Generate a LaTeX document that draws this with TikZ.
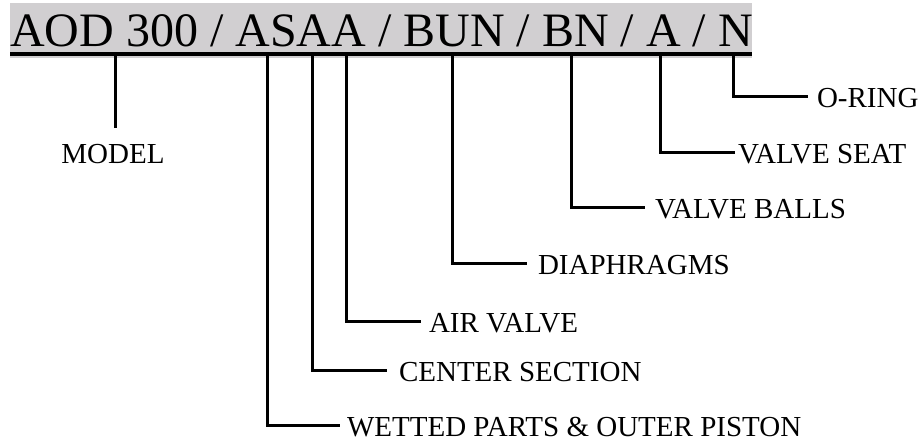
\documentclass[tikz,border=0pt]{standalone}
\usepackage{fontspec}
\setmainfont{Liberation Serif}
\definecolor{barbg}{RGB}{209,207,209}
\begin{document}
\begin{tikzpicture}[x=1pt,y=-1pt,
  lead/.style={line width=3pt, line join=miter},
  lab/.style={inner sep=0pt, text height=23pt, text depth=0pt, anchor=west,
    font=\fontsize{29}{31}\selectfont},
  titlefont/.style={inner sep=0pt, anchor=base west, font=\fontsize{48}{50}\selectfont}
]
\useasboundingbox (0,0) rectangle (918,444);
\fill[barbg] (10,3) rectangle (752,58);
\node[titlefont] (title) at (10,47) {AOD 300 / ASAA / BUN / BN / A / N};
\draw[line width=3.5pt] (10,54) -- (752,54);
% tick points on the underline
\coordinate (t1) at (115,55);
\coordinate (t2) at (267,55);
\coordinate (t3) at (312,55);
\coordinate (t4) at (346,55);
\coordinate (t5) at (452,55);
\coordinate (t6) at (571,55);
\coordinate (t7) at (660,55);
\coordinate (t8) at (733,55);
% labels
\node[lab, anchor=north, outer ysep=12pt] (model) at (113,128) {MODEL};
\node[lab, outer xsep=7pt] (wetted) at (340,425) {WETTED PARTS \& OUTER PISTON};
\node[lab, outer xsep=12pt] (center) at (387,370) {CENTER SECTION};
\node[lab, outer xsep=8pt] (air) at (421,321) {AIR VALVE};
\node[lab, outer xsep=11pt] (diaph) at (527,263) {DIAPHRAGMS};
\node[lab, outer xsep=10pt] (balls) at (645,207) {VALVE BALLS};
\node[lab, outer xsep=3pt] (seat) at (735,152) {VALVE SEAT};
\node[lab, outer xsep=9pt] (oring) at (808,96) {O-RING};
% leaders
\draw[lead] (t1) -- (t1 |- model.north);
\draw[lead] (t2) |- (wetted.west);
\draw[lead] (t3) |- (center.west);
\draw[lead] (t4) |- (air.west);
\draw[lead] (t5) |- (diaph.west);
\draw[lead] (t6) |- (balls.west);
\draw[lead] (t7) |- (seat.west);
\draw[lead] (t8) |- (oring.west);
\end{tikzpicture}
\end{document}
